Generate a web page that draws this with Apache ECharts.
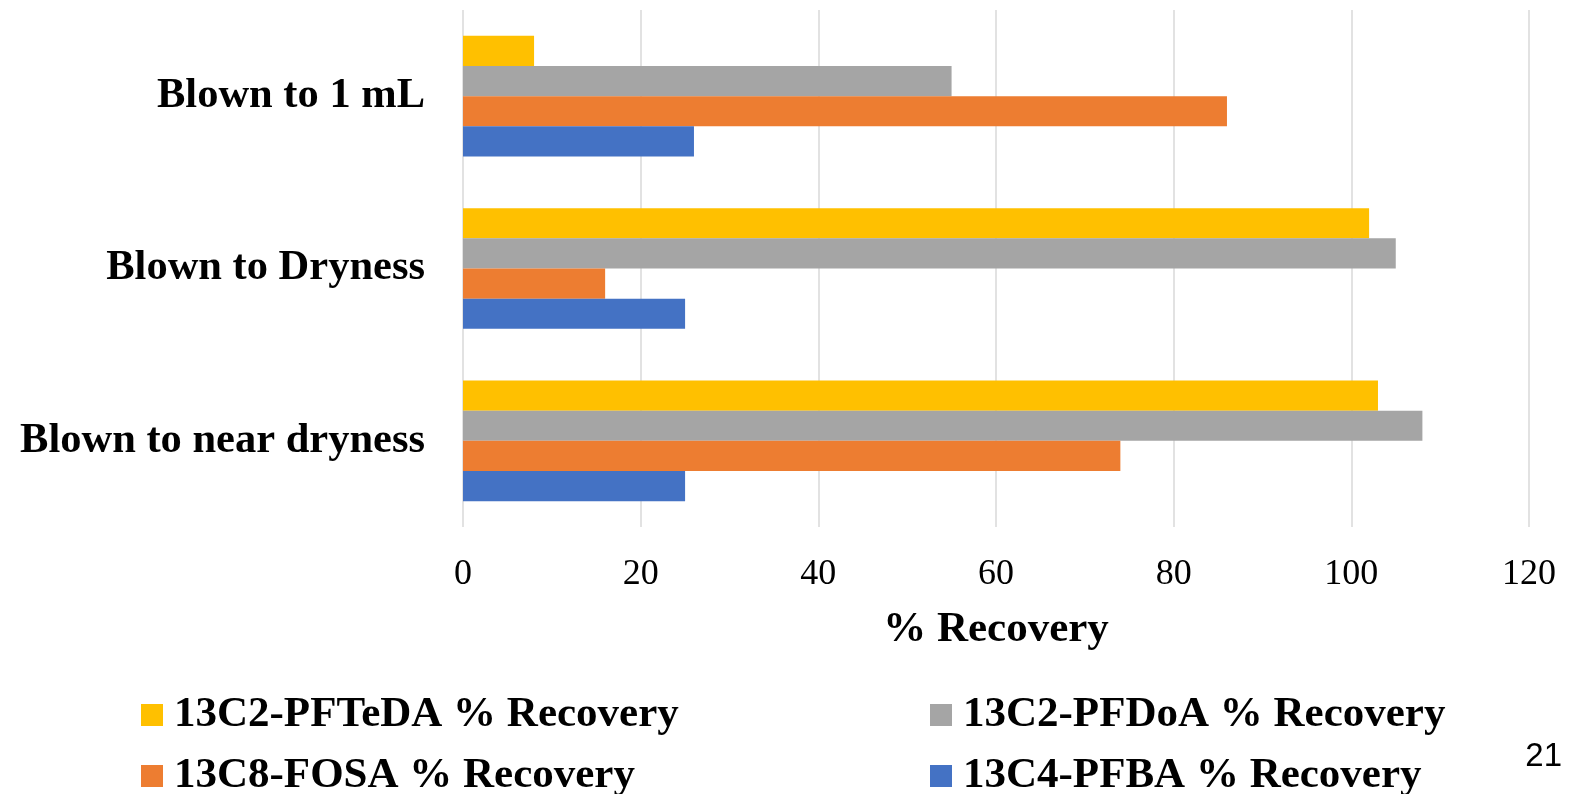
<!DOCTYPE html>
<html>
<head>
<meta charset="utf-8">
<script src="https://cdn.jsdelivr.net/npm/echarts@6/dist/echarts.min.js"></script>
<style>
html,body{margin:0;padding:0;background:#fff;}
#chart{width:1584px;height:794px;}
</style>
</head>
<body>
<div id="chart"></div>
<script>
// Categories listed bottom-to-top (ECharts category y axis runs upward)
const categories = ['Blown to near dryness', 'Blown to Dryness', 'Blown to 1 mL'];
const seriesNames = ['13C2-PFTeDA % Recovery', '13C2-PFDoA % Recovery', '13C8-FOSA % Recovery', '13C4-PFBA % Recovery'];
const pfteda = [103, 102, 8];
const pfdoa = [108, 105, 55];
const fosa = [74, 16, 86];
const pfba = [25, 25, 26];
const xTicks = [0, 20, 40, 60, 80, 100, 120];
const colors = ['#FFC000', '#A5A5A5', '#ED7D31', '#4472C4'];
const values = [pfteda, pfdoa, fosa, pfba];

const serif = '"Liberation Serif", "Times New Roman", serif';
const chart = echarts.init(document.getElementById('chart'));

const legendText = {fontFamily: serif, fontWeight: 'bold', fontSize: 43, color: '#000', lineHeight: 46, padding: [0, 0, 0, 6]};

chart.setOption({
  animation: false,
  grid: {left: 463, right: 55, top: 10, bottom: 267, containLabel: false},
  xAxis: {
    type: 'value', min: xTicks[0], max: xTicks[xTicks.length - 1], interval: xTicks[1] - xTicks[0],
    name: '% Recovery', nameLocation: 'middle', nameGap: 81,
    nameTextStyle: {fontFamily: serif, fontWeight: 'bold', fontSize: 43, color: '#000'},
    axisLine: {show: false}, axisTick: {show: false},
    axisLabel: {fontFamily: serif, fontSize: 36, color: '#000', margin: 30},
    splitLine: {show: true, lineStyle: {color: '#d9d9d9', width: 1.5}}
  },
  yAxis: {
    type: 'category', data: categories,
    axisLine: {show: false}, axisTick: {show: false},
    axisLabel: {fontFamily: serif, fontWeight: 'bold', fontSize: 42.5, color: '#000', margin: 38}
  },
  legend: [
    {left: 141, top: 692, height: 160, padding: 0, orient: 'vertical', itemWidth: 22, itemHeight: 22, itemGap: 15, icon: 'rect',
     data: [seriesNames[0], seriesNames[2]], textStyle: legendText},
    {left: 930, top: 692, height: 160, padding: 0, orient: 'vertical', itemWidth: 22, itemHeight: 22, itemGap: 15, icon: 'rect',
     data: [seriesNames[1], seriesNames[3]], textStyle: legendText}
  ],
  graphic: [{type: 'text', right: 22, top: 740,
    style: {text: '21', font: '33px "Liberation Sans", Arial, sans-serif', fill: '#000'}}],
  series: seriesNames.map((n, i) => ({
    name: n, type: 'bar', data: values[i],
    barGap: '0%', barCategoryGap: '30%',
    itemStyle: {color: colors[i]}
  }))
});
</script>
</body>
</html>
